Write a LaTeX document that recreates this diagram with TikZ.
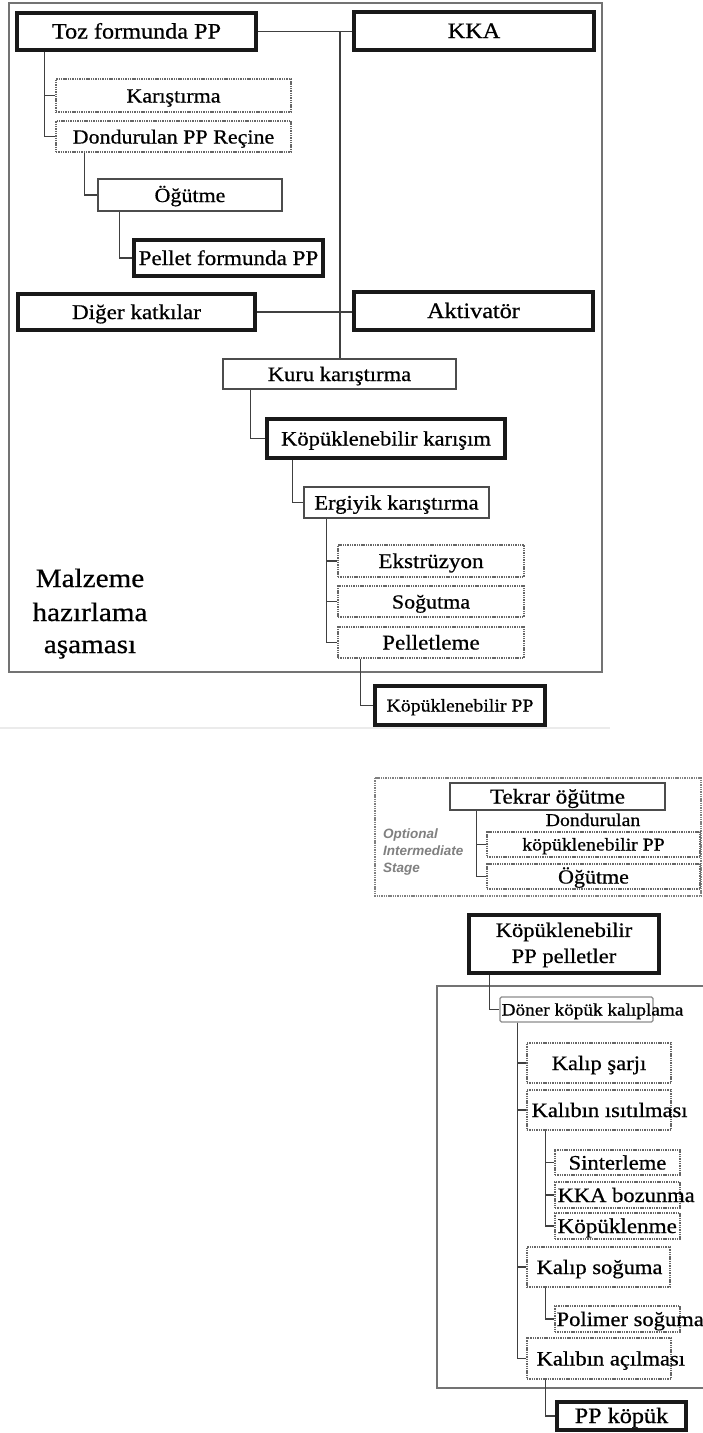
\documentclass[tikz,border=0pt]{standalone}
\usepackage{fontspec}
\setmainfont{Liberation Serif}[FakeStretch=1.1, FakeBold=0.6]
\newfontfamily\notefont{Liberation Sans}
\usetikzlibrary{calc}
\newcommand\fsz[1]{\fontsize{#1}{#1}\selectfont}
% box placed by its corners: style, name, x1, y1, x2, y2, text
\newcommand\boxat[7]{\node[#1, minimum width={#5-#3}, minimum height={#6-#4}] (#2) at ({(#3+#5)/2},{(#4+#6)/2}) {#7};}
\tikzset{
  base/.style={fill=white, inner sep=0pt, text height=14pt, text depth=0pt, font=\fsz{20.5}},
  heavy/.style={base, draw=black!90, line width=4.5pt},
  plain/.style={base, draw=black!70, line width=1.1pt},
  dots/.style={base, draw=black!60, line width=1.2pt, dash pattern=on 1.4pt off 0.9pt},
  tag/.style={inner sep=0pt, text height=14pt, text depth=0pt, font=\fsz{20.5}},
  note/.style={anchor=base west, inner sep=0pt, text=black!50, font=\notefont\bfseries\itshape\fsz{13.5}},
  link/.style={draw=black!75, line width=1.1pt},
  frame/.style={draw=black!55, line width=1.3pt},
}
\begin{document}
\begin{tikzpicture}[x=1pt,y=-1pt]
\useasboundingbox (0,0) rectangle (702,1433);
\fill[white] (0,0) rectangle (702,1433);

% ---------- material preparation stage ----------
\draw[frame] (9,3) rectangle (602,672);
\draw[black!8, line width=1.5pt] (0,728) -- (610,728);

\boxat{heavy, font=\fsz{22}}{toz}{17}{13}{256}{50}{Toz formunda PP}
\boxat{heavy, font=\fsz{22}}{kka}{354}{12}{594}{50}{KKA}
\boxat{dots, font=\fsz{20}}{kar}{56}{79}{291}{112}{Karıştırma}
\boxat{dots, font=\fsz{20}}{dpr}{56}{121}{291}{152}{Dondurulan PP Reçine}
\boxat{plain, font=\fsz{20}}{ogt}{98}{179}{282}{211}{Öğütme}
\boxat{heavy, font=\fsz{21}}{pel}{134}{240}{323}{276}{Pellet formunda PP}
\boxat{heavy, font=\fsz{21}}{dig}{18}{294}{255}{330}{Diğer katkılar}
\boxat{heavy, font=\fsz{22}}{akt}{354}{292}{593}{330}{Aktivatör}
\boxat{plain}{kuru}{223}{359}{456}{389}{Kuru karıştırma}
\boxat{heavy}{kkar}{267}{419}{505}{458}{Köpüklenebilir karışım}
\boxat{plain}{erg}{304}{487}{489}{518}{Ergiyik karıştırma}
\boxat{dots, font=\fsz{21}}{eks}{338}{545}{524}{577}{Ekstrüzyon}
\boxat{dots, font=\fsz{20}}{sog}{338}{586}{524}{617}{Soğutma}
\boxat{dots, font=\fsz{21}}{pell}{338}{627}{524}{658}{Pelletleme}
\boxat{heavy, font=\fsz{18}, text height=12pt}{kpp}{375}{686}{545}{725}{Köpüklenebilir PP}

\node[anchor=base, inner sep=0pt, font=\fsz{26.5}] (mal1) at (90,587) {Malzeme};
\node[anchor=base, inner sep=0pt, font=\fsz{26.5}] (mal2) at (90,621) {hazırlama};
\node[anchor=base, inner sep=0pt, font=\fsz{26.5}] (mal3) at (90,653) {aşaması};

% connectors of the preparation stage
\coordinate (tj) at (340,31.5);
\draw[link] (toz.east) -- (toz.east -| kka.west);
\draw[link] (tj) -- (tj |- kuru.north);
\draw[link] (dig.east) -- (dig.east -| akt.west);
\draw[link] ([xshift=30]toz.south west) |- (kar.west);
\draw[link] ([xshift=30]toz.south west) |- (dpr.west);
\draw[link] ([xshift=29]dpr.south west) |- (ogt.west);
\draw[link] ([xshift=22]ogt.south west) |- (pel.west);
\draw[link] ([xshift=28]kuru.south west) |- (kkar.west);
\draw[link] ([xshift=28]kkar.south west) |- (erg.west);
\draw[link] ([xshift=23]erg.south west) |- (eks.west);
\draw[link] ([xshift=23]erg.south west) |- (sog.west);
\draw[link] ([xshift=23]erg.south west) |- (pell.west);
\draw[link] ([xshift=23]pell.south west) |- (kpp.west);

% ---------- optional intermediate stage ----------
\draw[draw=black!50, line width=1.2pt, dash pattern=on 1.4pt off 0.9pt] (375,778) rectangle (701,896);
\node[note] (opt1) at (383,838) {Optional};
\node[note] (opt2) at (383,855) {Intermediate};
\node[note] (opt3) at (383,872) {Stage};

\boxat{plain, font=\fsz{21}}{tek}{450}{783}{665}{810}{Tekrar öğütme}
\node[anchor=base, inner sep=0pt, font=\fsz{18}] (dkl) at (593,826) {Dondurulan};
\boxat{dots, font=\fsz{18}, text height=12pt}{dkp}{487}{832}{700}{857}{köpüklenebilir PP}
\boxat{dots, font=\fsz{20}}{ogt2}{487}{864}{700}{889}{Öğütme}
\draw[link] ([xshift=27]tek.south west) |- (dkp.west);
\draw[link] ([xshift=27]tek.south west) |- (ogt2.west);

% ---------- rotational foam moulding ----------
\boxat{heavy}{kpel}{469}{915}{659}{973}{}
\node[align=center, inner sep=0pt, font={\fontsize{20.5}{26}\selectfont}] (kpelt) at ([yshift=-1]kpel.center) {Köpüklenebilir\\PP pelletler};

\draw[frame] (437,986) rectangle (705,1388);

\boxat{plain, draw=black!45, rounded corners=1.5pt}{don}{500}{997}{653}{1022}{}
\node[tag, anchor=west, font=\fsz{17.5}, text height=12pt] (dont) at ([xshift=2]don.west) {Döner köpük kalıplama};
\boxat{dots}{ksar}{527}{1043}{671}{1083}{Kalıp şarjı}
\boxat{dots}{kis}{527}{1090}{671}{1130}{}
\node[tag, anchor=west] (kist) at ([xshift=5]kis.west) {Kalıbın ısıtılması};
\boxat{dots}{sin}{555}{1150}{680}{1175}{Sinterleme}
\boxat{dots}{kkab}{555}{1182}{680}{1208}{}
\node[tag, anchor=west] (kkabt) at ([xshift=3]kkab.west) {KKA bozunma};
\boxat{dots}{kop}{555}{1213}{680}{1239}{}
\node[tag, anchor=west, font=\fsz{21}] (kopt) at ([xshift=3]kop.west) {Köpüklenme};
\boxat{dots}{ksog}{527}{1247}{670}{1287}{}
\node[tag, anchor=west] (ksogt) at ([xshift=10]ksog.west) {Kalıp soğuma};
\boxat{dots}{pol}{555}{1306}{680}{1332}{}
\node[tag, anchor=west] (polt) at ([xshift=2]pol.west) {Polimer soğuma};
\boxat{dots}{kac}{527}{1338}{671}{1379}{}
\node[tag, anchor=west] (kact) at ([xshift=10]kac.west) {Kalıbın açılması};
\boxat{heavy, font=\fsz{22}}{ppk}{557}{1402}{686}{1430}{PP köpük}

\draw[link] ([xshift=23]kpel.south west) |- (don.west);
\draw[link] ([xshift=18]don.south west) |- (ksar.west);
\draw[link] ([xshift=18]don.south west) |- (kis.west);
\draw[link] ([xshift=18]don.south west) |- (ksog.west);
\draw[link] ([xshift=18]don.south west) |- (kac.west);
\draw[link] ([xshift=19]kis.south west) |- (sin.west);
\draw[link] ([xshift=19]kis.south west) |- (kkab.west);
\draw[link] ([xshift=19]kis.south west) |- (kop.west);
\draw[link] ([xshift=19]ksog.south west) |- (pol.west);
\draw[link] ([xshift=19]kac.south west) |- (ppk.west);
\end{tikzpicture}
\end{document}
